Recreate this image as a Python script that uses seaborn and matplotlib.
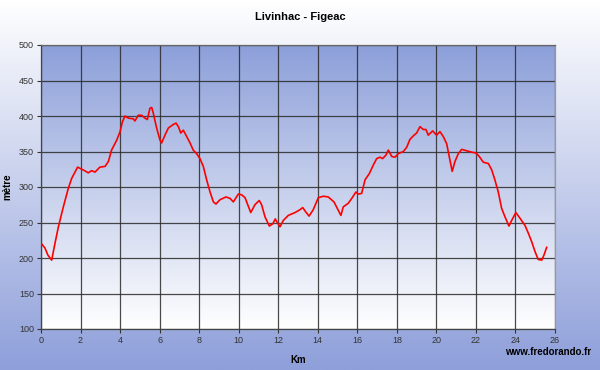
import numpy as np
import pandas as pd
import matplotlib
matplotlib.use('Agg')
import matplotlib.pyplot as plt
import seaborn as sb

# elevation profile (km, metres)
km = [0.0, 0.2, 0.35, 0.54, 0.71, 0.88, 1.13, 1.38, 1.55, 1.85, 2.14, 2.39, 2.56, 2.73,
      2.98, 3.24, 3.41, 3.57, 3.83, 4.0, 4.12, 4.25, 4.42, 4.67, 4.75, 4.92, 5.09, 5.26,
      5.38, 5.51, 5.6, 5.68, 5.85, 6.02, 6.1, 6.27, 6.44, 6.69, 6.83, 6.95, 7.07, 7.2,
      7.37, 7.54, 7.7, 7.87, 8.04, 8.21, 8.38, 8.55, 8.72, 8.85, 9.05, 9.36, 9.56, 9.73,
      9.98, 10.15, 10.32, 10.61, 10.82, 11.04, 11.16, 11.33, 11.55, 11.72, 11.85, 11.95,
      12.09, 12.26, 12.51, 12.85, 13.1, 13.24, 13.39, 13.56, 13.77, 14.03, 14.28, 14.53,
      14.82, 15.04, 15.17, 15.29, 15.54, 15.72, 15.93, 16.05, 16.22, 16.39, 16.61, 16.81,
      16.98, 17.15, 17.28, 17.45, 17.57, 17.74, 17.91, 18.07, 18.33, 18.5, 18.66, 18.87,
      19.0, 19.17, 19.34, 19.47, 19.59, 19.81, 20.01, 20.18, 20.35, 20.52, 20.65, 20.8,
      20.94, 21.11, 21.28, 21.53, 21.79, 22.0, 22.17, 22.37, 22.63, 22.8, 22.96, 23.13,
      23.3, 23.47, 23.67, 23.81, 24.02, 24.23, 24.48, 24.65, 24.82, 24.99, 25.15, 25.33,
      25.44, 25.58]
altitude = [221, 214, 204, 197, 221, 244, 272, 298, 312, 328, 324, 320, 323, 321,
            328, 329, 336, 352, 366, 378, 392, 400, 397, 396, 393, 401, 401, 397,
            395, 411, 412, 404, 383, 366, 362, 373, 383, 388, 390, 385, 376, 380,
            371, 362, 352, 347, 340, 329, 310, 293, 279, 276, 282, 286, 284, 279,
            290, 289, 285, 264, 275, 281, 275, 258, 245, 248, 255, 250,
            244, 253, 260, 264, 268, 271, 265, 259, 268, 285, 287, 286,
            279, 267, 260, 272, 277, 284, 293, 290, 291, 310, 319, 331,
            340, 342, 340, 345, 352, 343, 342, 347, 350, 356, 367, 373,
            376, 385, 381, 381, 373, 379, 373, 378, 371, 361, 343, 322,
            336, 347, 353, 351, 349, 348, 343, 335, 333, 324, 310, 293,
            270, 258, 245, 253, 264, 256, 246, 235, 223, 209, 198, 197,
            204, 215]
x_ticks = list(range(0, 27, 2))
y_ticks = list(range(100, 501, 50))

profile = pd.DataFrame({'km': km, 'altitude': altitude})

plt.rcParams['font.family'] = ['Liberation Sans', 'DejaVu Sans']

fig = plt.figure(figsize=(6, 3.7), dpi=100)

# figure background: white at top fading to blue at bottom
bg = fig.add_axes([0, 0, 1, 1], zorder=-10)
grad = np.linspace(0, 1, 256).reshape(-1, 1)
bg.imshow(grad, aspect='auto', extent=[0, 1, 0, 1],
          cmap=matplotlib.colors.LinearSegmentedColormap.from_list('fbg', ['#ffffff', '#8e9fda']))
bg.axis('off')

ax = fig.add_axes([41 / 600, 41 / 370, 514 / 600, 284 / 370])

# plot area background: blue at top fading to white at bottom
ax.imshow(grad[::-1], aspect='auto', extent=[0, 26, 100, 500], zorder=0,
          cmap=matplotlib.colors.LinearSegmentedColormap.from_list('abg', ['#ffffff', '#8c9fd9']))

sb.lineplot(data=profile, x='km', y='altitude', color='#ff0000', linewidth=1.2, ax=ax, zorder=3)

ax.set_xlim(0, 26)
ax.set_ylim(100, 500)
ax.set_xticks(x_ticks)
ax.set_yticks(y_ticks)
ax.grid(True, color='#2a2a2a', linewidth=0.9, alpha=0.85, zorder=1)
ax.set_axisbelow(True)
ax.tick_params(labelsize=6.5, labelcolor='#333333', length=3, width=0.8, color='#333333', pad=2)
for s in ax.spines.values():
    s.set_color('#444444')
    s.set_linewidth(0.9)
ax.spines['right'].set_color('#999999')
ax.spines['top'].set_color('#666666')

ax.set_xlabel('Km', fontsize=7, fontweight='bold')
ax.set_ylabel('mètre', fontsize=7, fontweight='bold')
ax.xaxis.set_label_coords(0.5, -0.092)
ax.yaxis.set_label_coords(-0.056, 0.5)

fig.text(0.5, 0.955, 'Livinhac - Figeac', ha='center', va='center', fontsize=8, fontweight='bold')
fig.text(0.985, 0.048, 'www.fredorando.fr', ha='right', va='center', fontsize=7, fontweight='bold')

plt.savefig('out.png', dpi=100)
